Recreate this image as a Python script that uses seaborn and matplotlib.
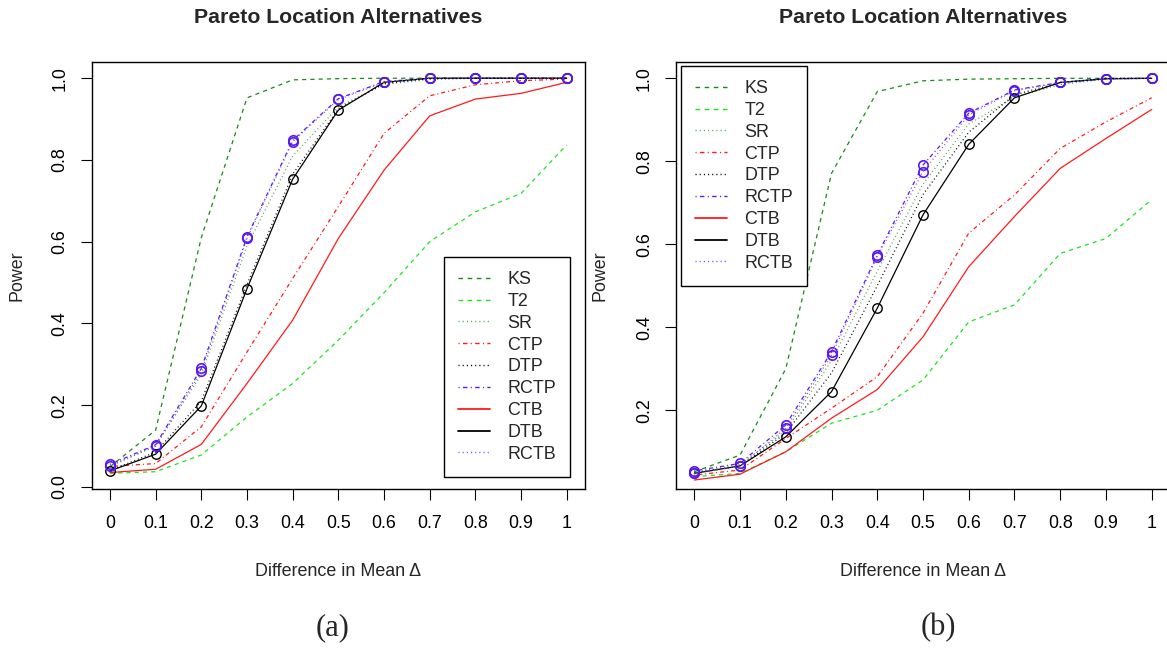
import matplotlib
matplotlib.use("Agg")
import matplotlib.pyplot as plt
from matplotlib.lines import Line2D
import seaborn as sns

# ---------------- data ----------------
delta = [0.0, 0.1, 0.2, 0.3, 0.4, 0.5, 0.6, 0.7, 0.8, 0.9, 1.0]
xtick_labels = ["0", "0.1", "0.2", "0.3", "0.4", "0.5", "0.6", "0.7", "0.8", "0.9", "1"]
series_names = ["KS", "T2", "SR", "CTP", "DTP", "RCTP", "CTB", "DTB", "RCTB"]

KS_a = [0.049, 0.139, 0.61, 0.952, 0.996, 0.999, 1.0, 1.0, 1.0, 1.0, 1.0]
T2_a = [0.033, 0.037, 0.078, 0.171, 0.253, 0.359, 0.475, 0.600, 0.673, 0.718, 0.837]
SR_a = [0.05, 0.10, 0.275, 0.59, 0.81, 0.93, 0.985, 0.997, 1.0, 1.0, 1.0]
CTP_a = [0.05, 0.057, 0.147, 0.33, 0.51, 0.686, 0.865, 0.957, 0.984, 0.994, 0.998]
DTP_a = [0.04, 0.085, 0.21, 0.495, 0.765, 0.925, 0.987, 0.999, 1.0, 1.0, 1.0]
RCTP_a = [0.055, 0.103, 0.29, 0.612, 0.848, 0.95, 0.992, 1.0, 1.0, 1.0, 1.0]
CTB_a = [0.035, 0.043, 0.104, 0.253, 0.408, 0.608, 0.775, 0.908, 0.949, 0.963, 0.99]
DTB_a = [0.039, 0.080, 0.198, 0.485, 0.753, 0.922, 0.990, 1.0, 1.0, 1.0, 1.0]
RCTB_a = [0.052, 0.10, 0.283, 0.608, 0.845, 0.948, 0.99, 1.0, 1.0, 1.0, 1.0]

KS_b = [0.052, 0.092, 0.30, 0.771, 0.968, 0.994, 0.998, 0.999, 1.0, 1.0, 1.0]
T2_b = [0.04, 0.048, 0.10, 0.169, 0.20, 0.273, 0.413, 0.454, 0.578, 0.614, 0.708]
SR_b = [0.05, 0.07, 0.15, 0.32, 0.535, 0.745, 0.89, 0.955, 0.985, 0.998, 1.0]
CTP_b = [0.044, 0.056, 0.132, 0.205, 0.281, 0.434, 0.627, 0.719, 0.831, 0.895, 0.953]
DTP_b = [0.05, 0.065, 0.145, 0.29, 0.50, 0.72, 0.87, 0.96, 0.99, 1.0, 1.0]
RCTP_b = [0.054, 0.072, 0.165, 0.341, 0.574, 0.791, 0.916, 0.972, 0.99, 0.999, 1.0]
CTB_b = [0.032, 0.046, 0.10, 0.181, 0.25, 0.377, 0.546, 0.667, 0.783, 0.855, 0.925]
DTB_b = [0.048, 0.066, 0.136, 0.245, 0.446, 0.671, 0.841, 0.953, 0.99, 0.999, 1.0]
RCTB_b = [0.048, 0.065, 0.157, 0.333, 0.57, 0.775, 0.912, 0.97, 0.99, 0.999, 1.0]

panel_a = [KS_a, T2_a, SR_a, CTP_a, DTP_a, RCTP_a, CTB_a, DTB_a, RCTB_a]
panel_b = [KS_b, T2_b, SR_b, CTP_b, DTP_b, RCTP_b, CTB_b, DTB_b, RCTB_b]

# ---------------- styles ----------------
DASH = (0, (3.3, 3.3))
DOT = (0, (0.8, 2.2))
DASHDOT = (0, (0.8, 2.4, 3.2, 2.4))
PURPLE = "#5a1af0"
styles = {
    "KS":   dict(color="#178a17", ls=DASH, marker=None),
    "T2":   dict(color="#19e619", ls=DASH, marker=None),
    "SR":   dict(color="#4aa84a", ls=DOT, marker=None),
    "CTP":  dict(color="#ff1a1a", ls=DASHDOT, marker=None),
    "DTP":  dict(color="#000000", ls=DOT, marker=None),
    "RCTP": dict(color=PURPLE, ls=DASHDOT, marker="o"),
    "CTB":  dict(color="#ff1a1a", ls="-", marker=None),
    "DTB":  dict(color="#000000", ls="-", marker="o"),
    "RCTB": dict(color="#7a4dff", ls=DOT, marker="o"),
}

FS = 12.9

sns.set_style("white")
plt.rcParams["font.family"] = ["Liberation Sans", "DejaVu Sans"]

fig = plt.figure(figsize=(11.67, 6.49), dpi=100)
W, H = 1167, 649
axA = fig.add_axes([91.7 / W, (H - 489.3) / H, 493.3 / W, 427 / H])
axB = fig.add_axes([676 / W, (H - 489.3) / H, 494 / W, 427 / H])


def draw(ax, data, ylim, yticks, leg_loc, leg_anchor):
    for name, vals in zip(series_names, data):
        st = styles[name]
        kw = dict(x=delta, y=vals, ax=ax, color=st["color"], linestyle=st["ls"],
                  linewidth=0.9, estimator=None, sort=False, legend=False)
        if st["marker"]:
            mc = PURPLE if name.startswith("RC") else "#000000"
            kw.update(marker="o", markersize=6.8, markerfacecolor="none",
                      markeredgecolor=mc, markeredgewidth=1.2 if mc == PURPLE else 1.0)
        sns.lineplot(**kw)
    ax.set_xlim(-0.04, 1.04)
    ax.set_ylim(*ylim)
    ax.set_xticks(delta)
    ax.set_xticklabels(xtick_labels)
    ax.set_yticks(yticks)
    ax.set_yticklabels([f"{t:.1f}" for t in yticks], rotation=90, va="center")
    ax.tick_params(axis="both", direction="out", length=7.7, width=0.8,
                   color="black", labelsize=FS, labelcolor="black",
                   bottom=True, left=True)
    ax.tick_params(axis="x", pad=11)
    ax.tick_params(axis="y", pad=9)
    for sp in ax.spines.values():
        sp.set_visible(True)
        sp.set_color("black")
        sp.set_linewidth(1.0)
    ax.set_xlabel("Difference in Mean Δ", fontsize=FS, va="center")
    ax.xaxis.set_label_coords(0.5, -0.193)
    ax.set_ylabel("Power", fontsize=FS, va="center")
    t = ax.set_title("Pareto Location Alternatives", fontsize=15.3, fontweight="bold",
                     y=1.104, pad=0)
    t.set_va("center")
    handles = []
    for name in series_names:
        st = styles[name]
        handles.append(Line2D([0], [0], color=st["color"], linestyle=st["ls"],
                              linewidth=1.0 if st["ls"] != "-" else 1.3))
    leg = ax.legend(handles, series_names, loc=leg_loc, bbox_to_anchor=leg_anchor,
                    borderaxespad=0, fontsize=FS, frameon=True, fancybox=False,
                    handlelength=1.8, handletextpad=0.95, labelspacing=0.27,
                    borderpad=0.78, framealpha=1)
    leg.get_frame().set_edgecolor("black")
    leg.get_frame().set_linewidth(1.0)


draw(axA, panel_a, (-0.006, 1.039), [0.0, 0.2, 0.4, 0.6, 0.8, 1.0],
     "lower right", (0.9696, 0.0295))
axA.yaxis.set_label_coords(-0.151, 0.5)
draw(axB, panel_b, (0.0096, 1.0386), [0.2, 0.4, 0.6, 0.8, 1.0],
     "upper left", (0.0101, 0.9913))
axB.yaxis.set_label_coords(-0.154, 0.5)

fig.text(333 / W, 1 - 628 / H, "(a)", fontsize=22, family=["Liberation Serif", "DejaVu Serif"],
         ha="center", va="center")
fig.text(938 / W, 1 - 628 / H, "(b)", fontsize=22, family=["Liberation Serif", "DejaVu Serif"],
         ha="center", va="center")

fig.savefig("out.png", dpi=100, facecolor="white")
